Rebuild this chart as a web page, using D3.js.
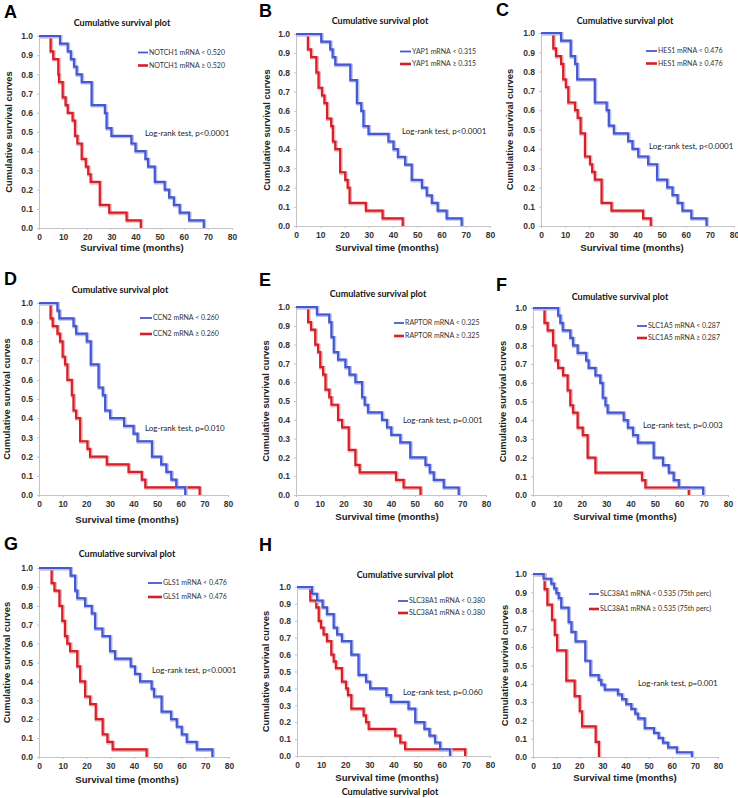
<!DOCTYPE html>
<html><head><meta charset="utf-8">
<script src="https://cdn.jsdelivr.net/npm/d3@7"></script>
<style>
body{margin:0;background:#fff;}
svg{display:block;}
</style></head>
<body><svg id="c" width="738" height="798"></svg>
<script>
// ---------- DATA ----------
const xTicks = [0,10,20,30,40,50,60,70,80];
const yTicks = [0,0.1,0.2,0.3,0.4,0.5,0.6,0.7,0.8,0.9,1.0];
const panelLetters = ["A","B","C","D","E","F","G","H",""];
const plotTitle = "Cumulative survival plot";
const yAxisTitle = "Cumulative survival curves";
const xAxisTitle = "Survival time (months)";
const lowLabels = ["NOTCH1 mRNA < 0.520","YAP1 mRNA < 0.315","HES1 mRNA < 0.476","CCN2 mRNA < 0.260","RAPTOR mRNA < 0.325","SLC1A5 mRNA < 0.287","GLS1 mRNA < 0.476","SLC38A1 mRNA < 0.380","SLC38A1 mRNA < 0.535 (75th perc)"];
const highLabels = ["NOTCH1 mRNA ≥ 0.520","YAP1 mRNA ≥ 0.315","HES1 mRNA ≥ 0.476","CCN2 mRNA ≥ 0.260","RAPTOR mRNA ≥ 0.325","SLC1A5 mRNA ≥ 0.287","GLS1 mRNA > 0.476","SLC38A1 mRNA ≥ 0.380","SLC38A1 mRNA ≥ 0.535 (75th perc)"];
const pValues = ["p<0.0001","p<0.0001","p<0.0001","p=0.010","p=0.001","p=0.003","p<0.0001","p=0.060","p=0.001"];

// Kaplan-Meier steps: [time (months), survival after event]
const notch1Low = [[8.7,0.96],[11.9,0.92],[13.2,0.88],[14.5,0.84],[15.6,0.80],[17.7,0.76],[21.8,0.64],[27.3,0.60],[28,0.52],[30,0.48],[38.3,0.44],[40,0.40],[44.1,0.36],[45.2,0.32],[48,0.24],[52.1,0.20],[53.9,0.16],[55.9,0.12],[58.3,0.08],[62.2,0.04],[68.3,0]];
const notch1High = [[4.8,0.92],[5.9,0.88],[8,0.80],[8.3,0.76],[9.8,0.68],[11,0.64],[11.9,0.60],[13.9,0.56],[14.9,0.48],[15.9,0.44],[17.7,0.36],[19.4,0.32],[20.4,0.28],[21.4,0.24],[25.2,0.12],[29.1,0.08],[36.3,0.04],[42.2,0]];
const yap1Low = [[10.4,0.96],[14.1,0.92],[15.1,0.88],[16.2,0.84],[22.4,0.76],[25.1,0.64],[26.9,0.60],[27.8,0.52],[29.9,0.48],[38.1,0.44],[40.2,0.40],[42,0.36],[45,0.32],[47.7,0.24],[51.9,0.20],[53.9,0.16],[56,0.12],[58.4,0.08],[62.1,0.04],[68.3,0]];
const yap1High = [[4.9,0.92],[6.2,0.88],[8.4,0.80],[9.3,0.72],[10.7,0.68],[11.7,0.64],[12.8,0.56],[14.5,0.52],[15.2,0.44],[16.2,0.40],[18.2,0.28],[20.3,0.24],[21.3,0.20],[22.1,0.12],[28.8,0.08],[35.7,0.04],[44,0]];
const hes1Low = [[8.3,0.96],[12.3,0.88],[14.1,0.84],[15,0.76],[22.3,0.64],[27.2,0.60],[28.1,0.52],[30.2,0.48],[36.1,0.44],[37.9,0.40],[40.3,0.36],[44.4,0.32],[48.1,0.24],[52.3,0.20],[54.5,0.16],[56.6,0.12],[58.6,0.08],[62.3,0.04],[68.6,0]];
const hes1High = [[5.1,0.92],[6.2,0.88],[8.3,0.84],[9.2,0.76],[10.3,0.72],[11.3,0.64],[14.1,0.60],[15.2,0.56],[16.4,0.48],[18.2,0.36],[20.3,0.32],[21.2,0.28],[22.3,0.24],[25.1,0.12],[29.2,0.08],[42.3,0.04],[45.5,0]];
const ccn2Low = [[7.8,0.96],[8.6,0.92],[14.6,0.88],[15.7,0.84],[20.2,0.80],[21.9,0.68],[25.2,0.56],[27,0.52],[28,0.44],[30.1,0.40],[36,0.36],[40,0.32],[41.7,0.28],[47.8,0.20],[51.7,0.16],[53.9,0.12],[56,0.08],[58.1,0.04],[61.9,0]];
const ccn2High = [[4.9,0.92],[5.8,0.88],[7.8,0.84],[8.9,0.80],[10,0.72],[11,0.68],[12,0.60],[13.9,0.52],[14.6,0.44],[15.7,0.40],[17.4,0.28],[20.5,0.24],[21.6,0.20],[28.7,0.16],[37.9,0.12],[43.5,0.08],[45,0.04],[68,0]];
const raptorLow = [[8.8,0.96],[14,0.92],[14.9,0.84],[15.9,0.76],[17.7,0.72],[20.8,0.68],[22.5,0.64],[25,0.60],[27.8,0.52],[28.9,0.48],[30.3,0.44],[36.2,0.40],[38.3,0.36],[40.1,0.32],[43.9,0.28],[48.1,0.20],[54.5,0.16],[56.3,0.12],[58,0.08],[62.2,0.04],[68.5,0]];
const raptorHigh = [[5.1,0.92],[6.3,0.88],[8.1,0.80],[9.3,0.76],[10.2,0.68],[11.4,0.64],[12.4,0.56],[14,0.52],[14.9,0.48],[17.7,0.40],[19.4,0.36],[22.2,0.24],[25,0.16],[26.8,0.12],[42.1,0.08],[45.3,0.04],[52.4,0]];
const slc1a5Low = [[10.3,0.96],[11.2,0.92],[12.2,0.88],[15.3,0.84],[16.4,0.80],[18.3,0.76],[21.8,0.72],[22.8,0.68],[25.6,0.64],[27.6,0.60],[28.6,0.52],[29.7,0.48],[30.6,0.44],[37.2,0.40],[38.9,0.36],[41,0.32],[43,0.28],[49.5,0.20],[53.3,0.16],[55.7,0.12],[57.7,0.08],[59.8,0.04],[69.8,0]];
const slc1a5High = [[4.7,0.92],[6,0.88],[8.2,0.80],[9.2,0.72],[10.3,0.68],[12.3,0.64],[14.2,0.56],[15.3,0.48],[16.4,0.44],[18.3,0.36],[20.4,0.32],[22.4,0.20],[25.6,0.12],[44.7,0.08],[46.1,0.04],[63.9,0]];
const gls1Low = [[13.3,0.96],[15.2,0.88],[16.1,0.84],[19.4,0.80],[22.2,0.76],[23.6,0.68],[26.7,0.64],[29.9,0.56],[32,0.52],[38.6,0.48],[40.4,0.44],[42.5,0.40],[47.4,0.36],[48.4,0.32],[51.6,0.24],[55.6,0.20],[58,0.16],[60.1,0.12],[62.2,0.08],[66.4,0.04],[73,0]];
const gls1High = [[5.3,0.92],[6.5,0.88],[8.6,0.80],[9.8,0.72],[10.9,0.64],[11.9,0.60],[13.1,0.56],[16.1,0.48],[17.3,0.40],[19.4,0.32],[21.5,0.28],[23.9,0.20],[26.8,0.12],[28.8,0.08],[31,0.04],[45.3,0]];
const slc38a1Low = [[6.2,0.96],[8.3,0.92],[10.6,0.88],[12.4,0.84],[15.2,0.76],[16.6,0.72],[18.6,0.68],[22.5,0.60],[25.5,0.48],[28.6,0.44],[30.3,0.40],[37,0.36],[38.9,0.32],[46.2,0.28],[49,0.20],[52.8,0.16],[54.9,0.12],[57.2,0.08],[59.3,0.04],[63.4,0]];
const slc38a1High = [[5.5,0.92],[8,0.88],[9,0.80],[9.9,0.76],[11,0.72],[12.4,0.68],[14.2,0.60],[15.2,0.56],[16.1,0.52],[18.6,0.44],[20.3,0.40],[21.1,0.36],[22.5,0.28],[27.6,0.24],[28.6,0.20],[29.7,0.16],[40.7,0.12],[42.8,0.08],[44.8,0.04],[69.7,0]];
const slc38a1Low75 = [[4.6,0.974],[7.9,0.947],[9.1,0.921],[10.1,0.895],[11.1,0.868],[12.2,0.816],[15.4,0.737],[16.6,0.684],[18.4,0.632],[22.6,0.526],[24.8,0.447],[28.4,0.421],[29.5,0.395],[31,0.368],[36.7,0.342],[38.5,0.316],[40.3,0.289],[42.5,0.263],[44.2,0.237],[45.4,0.211],[48.3,0.158],[52.3,0.132],[54.3,0.105],[56.2,0.079],[58.4,0.053],[62.2,0.026],[68.7,0]];
const slc38a1High75 = [[5,0.917],[6.2,0.833],[8.2,0.75],[9.4,0.667],[10.4,0.583],[14.4,0.417],[18,0.333],[20.2,0.25],[21.2,0.167],[27.1,0.083],[28.5,0]];

const lowSeries = [notch1Low,yap1Low,hes1Low,ccn2Low,raptorLow,slc1a5Low,gls1Low,slc38a1Low,slc38a1Low75];
const highSeries = [notch1High,yap1High,hes1High,ccn2High,raptorHigh,slc1a5High,gls1High,slc38a1High,slc38a1High75];

// ---------- LAYOUT ----------
const layout = [
 {box:[39,232,36,228], letter:[4,18], title:[122,23], ylab:9,  xlab:[132,248], leg:[138,148,52.5,65.5], lr:[145,133]},
 {box:[296,490,34,226], letter:[259,17], title:[380,21], ylab:267, xlab:[387,248], leg:[400,411,51.5,64], lr:[402,131]},
 {box:[541,734,33,226], letter:[496,16], title:[625,21], ylab:510, xlab:[632,248], leg:[646,657,51,63.5], lr:[649,146]},
 {box:[39,228,303,495], letter:[4,285], title:[120,290], ylab:7, xlab:[127,520], leg:[140,152,318,334], lr:[145,428]},
 {box:[296,486,307,495], letter:[259,286], title:[378,294], ylab:266, xlab:[387,517], leg:[394,404,323,336], lr:[403,420]},
 {box:[533,728,308,495], letter:[496,291], title:[620,297], ylab:503, xlab:[625,517], leg:[637,647,326,338], lr:[643,425]},
 {box:[39,229,568,757], letter:[4,550], title:[127,554], ylab:7, xlab:[127,780], leg:[148,162,583,597], lr:[152,670]},
 {box:[297,490,587,756], letter:[259,551], title:[405,575], ylab:266, xlab:[387,778], leg:[398,408,601,613], lr:[403,692]},
 {box:[533,718,574,757], letter:[0,0], title:[390,792], ylab:505, xlab:[625,778], leg:[589,599,594,609], lr:[638,683]}
];

const BLUE = "#4557d1", BLUE_H = "#b7bff0", RED = "#d4202a", RED_H = "#f3b0b0";
const svg = d3.select("#c");
const sans = "'Liberation Sans', Arial, sans-serif";
const calib = "Lato, 'Open Sans', sans-serif";

layout.forEach((L, i) => {
  const [x0,x1,yt,yb] = L.box;
  const x = d3.scaleLinear().domain([0,80]).range([x0,x1]);
  const y = d3.scaleLinear().domain([0,1]).range([yb,yt]);
  const g = svg.append("g");

  const ax = g.append("g").attr("transform",`translate(0,${yb})`)
    .call(d3.axisBottom(x).tickValues(xTicks).tickSize(2).tickSizeOuter(0).tickPadding(4));
  const ay = g.append("g").attr("transform",`translate(${x0},0)`)
    .call(d3.axisLeft(y).tickValues(yTicks).tickFormat(d3.format(".1f")).tickSize(2).tickSizeOuter(0).tickPadding(4));
  [ax,ay].forEach(a=>{
    a.select(".domain").attr("stroke","#c4c4c4").attr("stroke-width",1);
    a.selectAll(".tick line").attr("stroke","#c4c4c4");
    a.selectAll(".tick text").attr("fill","#333").attr("font-family",sans).attr("font-weight","bold").attr("font-size","8.5px");
  });

  const line = d3.line().x(d=>x(d[0])).y(d=>y(d[1])).curve(d3.curveStepAfter);
  const draw = (data, col, halo, w) => {
    const pts = [[0,1]].concat(data);
    g.append("path").attr("d",line(pts)).attr("fill","none").attr("stroke",halo).attr("stroke-width",w+1.2)
      .attr("transform","translate(0.8,0.8)");
    g.append("path").attr("d",line(pts)).attr("fill","none").attr("stroke",col).attr("stroke-width",w);
  };
  draw(highSeries[i], RED, RED_H, 2.2);
  draw(lowSeries[i], BLUE, BLUE_H, 2.2);

  const [lx1,lx2,ly1,ly2] = L.leg;
  [[ly1,BLUE,lowLabels[i],1.8],[ly2,RED,highLabels[i],2.6]].forEach(([yy,c,t,w])=>{
    g.append("line").attr("x1",lx1).attr("x2",lx2).attr("y1",yy).attr("y2",yy).attr("stroke",c).attr("stroke-width",w);
    g.append("text").attr("x",lx2+1).attr("y",yy).attr("dy","0.35em").text(t)
      .attr("font-family",calib).attr("font-size","7px").attr("fill","#333");
  });

  g.append("text").attr("x",L.lr[0]).attr("y",L.lr[1]).attr("dy","0.35em")
    .text("Log-rank test, " + pValues[i]).attr("font-family",calib).attr("font-size","8px").attr("fill","#222");

  g.append("text").attr("x",L.title[0]).attr("y",L.title[1]).attr("dy","0.35em").attr("text-anchor","middle")
    .text(plotTitle).attr("font-family",calib).attr("font-weight","bold").attr("font-size","9px").attr("fill","#111");

  g.append("text").attr("transform",`translate(${L.ylab},${(yt+yb)/2}) rotate(-90)`).attr("dy","0.35em")
    .attr("text-anchor","middle").text(yAxisTitle)
    .attr("font-family",sans).attr("font-weight","bold").attr("font-size","9.4px").attr("fill","#222");
  g.append("text").attr("x",L.xlab[0]).attr("y",L.xlab[1]).attr("dy","0.35em").attr("text-anchor","middle")
    .text(xAxisTitle).attr("font-family",sans).attr("font-weight","bold").attr("font-size","9.6px").attr("fill","#222");

  if (panelLetters[i]) {
    g.append("text").attr("x",L.letter[0]).attr("y",L.letter[1]).text(panelLetters[i])
      .attr("font-family",sans).attr("font-weight","bold").attr("font-size","18px").attr("fill","#000");
  }
});
</script></body></html>
